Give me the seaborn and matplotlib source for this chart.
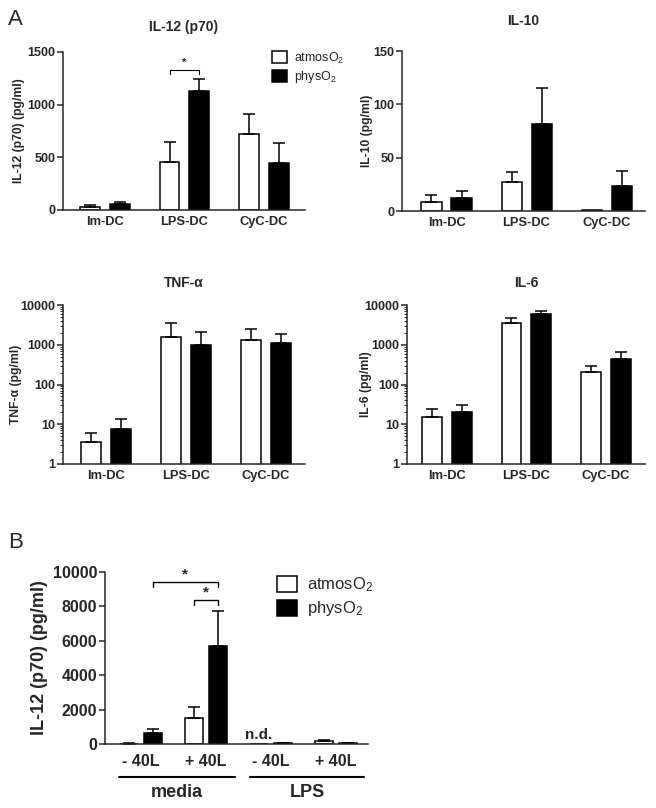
import numpy as np
import pandas as pd
import matplotlib
matplotlib.use('Agg')
import matplotlib.pyplot as plt
import seaborn as sns
from matplotlib.patches import Patch
from matplotlib.ticker import FuncFormatter, LogLocator, NullFormatter

sns.set_style('ticks')
plt.rcParams['font.family'] = ['Liberation Sans', 'DejaVu Sans']
plt.rcParams['font.weight'] = 'bold'
plt.rcParams['mathtext.fontset'] = 'custom'
plt.rcParams['mathtext.rm'] = 'Liberation Sans'
plt.rcParams['mathtext.default'] = 'regular'

# ---- data ----
cells = ['Im-DC', 'LPS-DC', 'CyC-DC']
o2 = ['atmos', 'phys']

il12_atmos = [32, 452, 717]
il12_atmos_err = [12, 195, 199]
il12_phys = [57, 1131, 442]
il12_phys_err = [16, 116, 190]

il10_atmos = [8.8, 26.9, 1.0]
il10_atmos_err = [6.2, 9.4, 0]
il10_phys = [11.9, 81.6, 23.4]
il10_phys_err = [6.9, 34.0, 14.4]

tnf_atmos = [3.5, 1540, 1350]
tnf_atmos_err = [2.5, 1920, 1120]
tnf_phys = [7.8, 980, 1080]
tnf_phys_err = [6.0, 1070, 820]

il6_atmos = [15.5, 3550, 207]
il6_atmos_err = [8.5, 1180, 80]
il6_phys = [20, 5850, 430]
il6_phys_err = [10, 1350, 230]

b_groups = ['media -40L', 'media +40L', 'LPS -40L', 'LPS +40L']
b_ticklabels = ['- 40L', '+ 40L', '- 40L', '+ 40L']
b_atmos = [20, 1530, 0, 150]
b_atmos_err = [10, 640, 0, 100]
b_phys = [620, 5715, 50, 60]
b_phys_err = [250, 2020, 20, 20]

W, H = 656, 808
fig = plt.figure(figsize=(W / 100, H / 100), dpi=100)
LW = 1.1


def box(l, r, t, b):
    return [l / W, 1 - b / H, (r - l) / W, (b - t) / H]


def bars(ax, cats, atmos, atmos_err, phys, phys_err, width, gap):
    df = pd.DataFrame({'cat': list(cats) * 2,
                       'o2': ['atmos'] * len(cats) + ['phys'] * len(cats),
                       'val': list(atmos) + list(phys)})
    sns.barplot(data=df, x='cat', y='val', hue='o2', order=cats, hue_order=o2,
                palette={'atmos': 'white', 'phys': 'black'}, saturation=1,
                edgecolor='black', linewidth=LW, width=width, gap=gap,
                errorbar=None, legend=False, ax=ax)
    centers = []
    for cont, err in zip(ax.containers, [atmos_err, phys_err]):
        xs = [p.get_x() + p.get_width() / 2 for p in cont.patches]
        hs = [p.get_height() for p in cont.patches]
        centers.append(xs)
        e = np.array(err, dtype=float)
        m = e > 0
        ax.errorbar(np.array(xs)[m], np.array(hs)[m], yerr=[np.zeros(m.sum()), e[m]],
                    fmt='none', ecolor='black', elinewidth=LW, capsize=4, capthick=LW)
    sns.despine(ax=ax)
    for s in ['left', 'bottom']:
        ax.spines[s].set_linewidth(LW)
    ax.tick_params(axis='x', length=0, pad=4)
    ax.tick_params(axis='y', length=4, width=LW, pad=1.5)
    ax.set_xlabel('')
    return centers


def bold_ticks(ax, fs_y, fs_x):
    for t in ax.get_yticklabels():
        t.set_fontweight('bold')
        t.set_fontsize(fs_y)
    for t in ax.get_xticklabels():
        t.set_fontweight('bold')
        t.set_fontsize(fs_x)


def log_axis(ax):
    ax.set_yscale('log')
    ax.set_ylim(1, 10000)
    ax.yaxis.set_major_locator(LogLocator(base=10, numticks=10))
    ax.yaxis.set_minor_locator(LogLocator(base=10, subs=np.arange(2, 10), numticks=20))
    ax.yaxis.set_minor_formatter(NullFormatter())
    ax.yaxis.set_major_formatter(FuncFormatter(lambda v, p: f'{v:g}'))
    ax.tick_params(axis='y', which='minor', length=2, width=0.7)


# ---- A: IL-12 ----
ax1 = fig.add_axes(box(63, 305, 52, 210))
c = bars(ax1, cells, il12_atmos, il12_atmos_err, il12_phys, il12_phys_err, 0.75, 0.333)
ax1.set_xlim(-0.53, 2.52)
ax1.set_ylim(0, 1500)
ax1.set_yticks([0, 500, 1000, 1500])
ax1.set_title('IL-12 (p70)', fontsize=10, fontweight='bold', pad=15)
ax1.set_ylabel('IL-12 (p70) (pg/ml)', fontsize=8.7, fontweight='bold')
ax1.yaxis.set_label_coords(-0.157, 0.5)
x1, x2 = c[0][1], c[1][1]
ax1.plot([x1, x1, x2, x2], [1295, 1333, 1333, 1295], color='black', lw=0.8)
ax1.text((x1 + x2) / 2, 1345, '*', ha='center', va='bottom', fontsize=8)
bold_ticks(ax1, 9, 9.3)

leg_handles = [Patch(facecolor='white', edgecolor='black', lw=LW),
               Patch(facecolor='black', edgecolor='black', lw=LW)]
leg_labels = ['atmosO$_2$', 'physO$_2$']
fig.legend(leg_handles, leg_labels, loc='center left', bbox_to_anchor=(272 / W, 1 - 68 / H),
           frameon=False, prop={'weight': 'normal', 'size': 9}, handlelength=1.2,
           handleheight=1.1, handletextpad=0.6, labelspacing=0.3, borderpad=0,
           borderaxespad=0)

# ---- A: IL-10 ----
ax2 = fig.add_axes(box(402, 645, 51, 211))
bars(ax2, cells, il10_atmos, il10_atmos_err, il10_phys, il10_phys_err, 0.75, 0.333)
ax2.set_xlim(-0.556, 2.48)
ax2.set_ylim(0, 150)
ax2.set_yticks([0, 50, 100, 150])
ax2.set_title('IL-10', fontsize=10, fontweight='bold', pad=19)
ax2.set_ylabel('IL-10 (pg/ml)', fontsize=8.7, fontweight='bold')
ax2.yaxis.set_label_coords(-0.12, 0.5)
bold_ticks(ax2, 9, 9.3)

# ---- A: TNF-a ----
ax3 = fig.add_axes(box(63, 305, 305, 464))
bars(ax3, cells, tnf_atmos, tnf_atmos_err, tnf_phys, tnf_phys_err, 0.75, 0.333)
log_axis(ax3)
ax3.set_xlim(-0.54, 2.49)
ax3.set_title('TNF-α', fontsize=10, fontweight='bold', pad=13)
ax3.set_ylabel('TNF-α (pg/ml)', fontsize=8.7, fontweight='bold')
ax3.yaxis.set_label_coords(-0.17, 0.5)
bold_ticks(ax3, 9, 9.3)

# ---- A: IL-6 ----
ax4 = fig.add_axes(box(407, 645, 305, 464))
bars(ax4, cells, il6_atmos, il6_atmos_err, il6_phys, il6_phys_err, 0.75, 0.333)
log_axis(ax4)
ax4.set_xlim(-0.5, 2.49)
ax4.set_title('IL-6', fontsize=10, fontweight='bold', pad=13)
ax4.set_ylabel('IL-6 (pg/ml)', fontsize=8.7, fontweight='bold')
ax4.yaxis.set_label_coords(-0.147, 0.5)
bold_ticks(ax4, 9, 9.3)

# ---- B ----
ax5 = fig.add_axes(box(105, 368, 572, 744))
c = bars(ax5, b_groups, b_atmos, b_atmos_err, b_phys, b_phys_err, 0.74, 0.25)
ax5.set_xlim(-0.55, 3.49)
ax5.set_ylim(0, 10000)
ax5.set_yticks([0, 2000, 4000, 6000, 8000, 10000])
ax5.set_xticks(range(4))
ax5.set_xticklabels(b_ticklabels)
ax5.tick_params(axis='x', pad=7)
ax5.set_ylabel('IL-12 (p70) (pg/ml)', fontsize=13, fontweight='bold')
ax5.yaxis.set_label_coords(-0.217, 0.5)
bold_ticks(ax5, 11.5, 11.5)
ax5.text(c[0][2], 120, 'n.d.', ha='center', va='bottom', fontsize=11, fontweight='bold')
# significance brackets
xa, xb = c[1][0], c[1][1]
ax5.plot([xa, xa, xb, xb], [9100, 9420, 9420, 9100], color='black', lw=1, clip_on=False)
ax5.text((xa + xb) / 2, 9450, '*', ha='center', va='bottom', fontsize=11)
xa, xb = c[0][1], c[1][1]
ax5.plot([xa, xa, xb, xb], [8080, 8370, 8370, 8080], color='black', lw=1, clip_on=False)
ax5.text((xa + xb) / 2, 8400, '*', ha='center', va='bottom', fontsize=11)
# group lines under the tick labels
tr = ax5.get_xaxis_transform()
for (l, r), name in zip([(-0.33, 1.45), (1.68, 3.43)], ['media', 'LPS']):
    ax5.plot([l, r], [-0.19, -0.19], color='black', lw=1.5, transform=tr, clip_on=False)
    ax5.text((l + r) / 2, -0.28, name, transform=tr, ha='center', va='center',
             fontsize=13, fontweight='bold')
fig.legend(leg_handles, leg_labels, loc='center left', bbox_to_anchor=(277 / W, 1 - 597 / H),
           frameon=False, prop={'weight': 'normal', 'size': 12}, handlelength=1.2,
           handleheight=1.1, handletextpad=0.6, labelspacing=0.3, borderpad=0,
           borderaxespad=0)

fig.text(8 / W, 1 - 25 / H, 'A', fontsize=16, fontweight='normal', va='baseline')
fig.text(8 / W, 1 - 548 / H, 'B', fontsize=16, fontweight='normal', va='baseline')

fig.savefig('out.png', dpi=100)
